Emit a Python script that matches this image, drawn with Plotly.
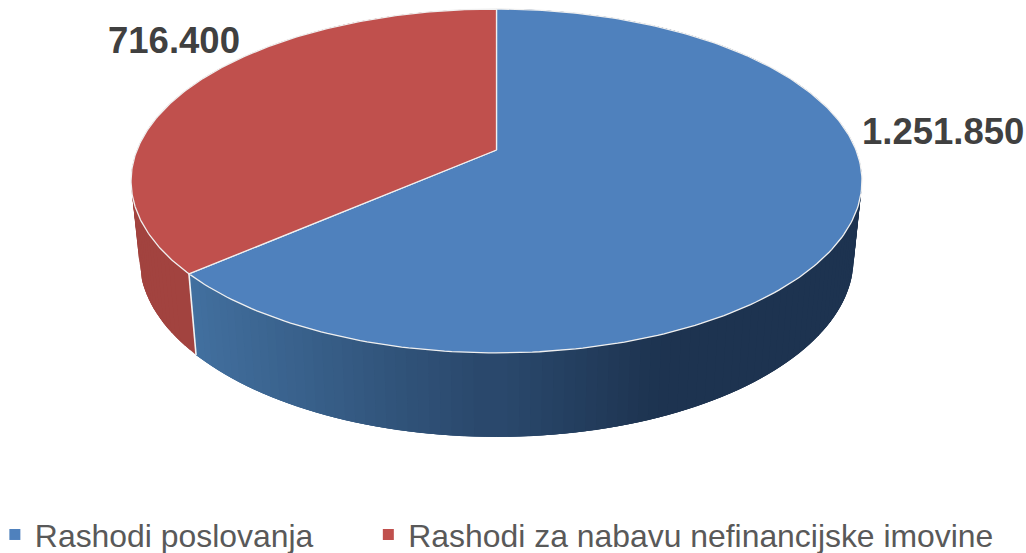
import numpy as np
import plotly.graph_objects as go

categories = ["Rashodi poslovanja", "Rashodi za nabavu nefinancijske imovine"]
values = [1251850, 716400]
value_labels = ["1.251.850", "716.400"]
top_colors = ["#4F81BD", "#C0504D"]

W, H = 1026, 553
CX, AY = 496.5, 150.0      # apex of the pie on the page
K, A, B = 0.18, 359.5, 166.4  # perspective of the disc
SX, SY, BOTTOM_AY = 0.977, 1.037, 226.5  # lower disc
STEP = np.radians(1.5)


def top_rim(theta):
    u, v = np.sin(theta), np.cos(theta)
    w = 1 + K * v
    return A * u / w, -B * v / w


def rim(theta, lower=False):
    x, y = top_rim(theta)
    if lower:
        return CX + SX * x, BOTTOM_AY + SY * y
    return CX + x, AY + y


def lerp_hex(c1, c2, t):
    a = [int(c1[i:i + 2], 16) for i in (1, 3, 5)]
    b = [int(c2[i:i + 2], 16) for i in (1, 3, 5)]
    return "rgb(%d,%d,%d)" % tuple(round(p + (q - p) * t) for p, q in zip(a, b))


def wall_color(idx, x):
    if idx == 1:
        return "#A2433F"
    t = float(np.clip((x - 195) / (650 - 195), 0, 1))
    return lerp_hex("#42709F", "#1D3350", t)


total = sum(values)
edges = [0.0]
for v in values:
    edges.append(edges[-1] + v / total * 2 * np.pi)

fig = go.Figure()

# walls: overlapping bands painted far to near, so no gaps show between them
bands = []
for i in range(len(values)):
    for a in np.arange(edges[i], edges[i + 1], STEP):
        b = min(a + 3 * STEP, edges[i + 1])
        bands.append((np.cos(a + STEP), i, a, b))
for _, i, a, b in sorted(bands, key=lambda q: -q[0]):
    th = np.linspace(a, b, 4)
    xt, yt = rim(th)
    xb, yb = rim(th[::-1], lower=True)
    c = wall_color(i, float(xt.mean()))
    fig.add_trace(go.Scatter(
        x=list(xt) + list(xb) + [xt[0]], y=list(yt) + list(yb) + [yt[0]],
        mode="lines", fill="toself", fillcolor=c, line=dict(color=c, width=0),
        hoverinfo="skip", showlegend=False))

# white seam on the wall between the two slices
xs0, ys0 = rim(np.array([edges[1]]))
xs1, ys1 = rim(np.array([edges[1]]), lower=True)
fig.add_trace(go.Scatter(x=[xs0[0], xs1[0]], y=[ys0[0], ys1[0]], mode="lines",
                         line=dict(color="#F2F2F2", width=1.6),
                         hoverinfo="skip", showlegend=False))

# top slices
for i in range(len(values)):
    th = np.linspace(edges[i], edges[i + 1], 240)
    x, y = rim(th)
    fig.add_trace(go.Scatter(
        x=[CX] + list(x) + [CX], y=[AY] + list(y) + [AY],
        mode="lines", fill="toself", fillcolor=top_colors[i],
        line=dict(color="#F0F0F0", width=1.3),
        hoverinfo="skip", showlegend=False))

# legend entries, one legend each so they can sit apart
for j, (name, c) in enumerate(zip(categories, top_colors)):
    fig.add_trace(go.Scatter(x=[None], y=[None], mode="markers", name=name,
                             legend="legend" if j == 0 else "legend2",
                             marker=dict(symbol="square", size=11, color=c)))

fig.add_annotation(x=943, y=131, text="<b>" + value_labels[0] + "</b>", showarrow=False,
                   font=dict(family="Liberation Sans", size=36.5, color="#404040"))
fig.add_annotation(x=173.5, y=40, text="<b>" + value_labels[1] + "</b>", showarrow=False,
                   font=dict(family="Liberation Sans", size=36.5, color="#404040"))

legend_common = dict(orientation="h", xanchor="left", y=-0.0167, yanchor="bottom",
                     itemclick=False, itemdoubleclick=False, bgcolor="rgba(0,0,0,0)",
                     font=dict(family="Liberation Sans", size=31.9, color="#595959"))

fig.update_layout(
    width=W, height=H, margin=dict(l=0, r=0, t=0, b=0, autoexpand=False),
    paper_bgcolor="white", plot_bgcolor="white",
    xaxis=dict(range=[0, W], visible=False, fixedrange=True),
    yaxis=dict(range=[H, 0], visible=False, fixedrange=True),
    legend=dict(x=-0.005, **legend_common),
    legend2=dict(x=0.359, **legend_common),
)
fig.write_html("out.html", config={"displayModeBar": False},
               post_script="document.body.style.margin='0';")
